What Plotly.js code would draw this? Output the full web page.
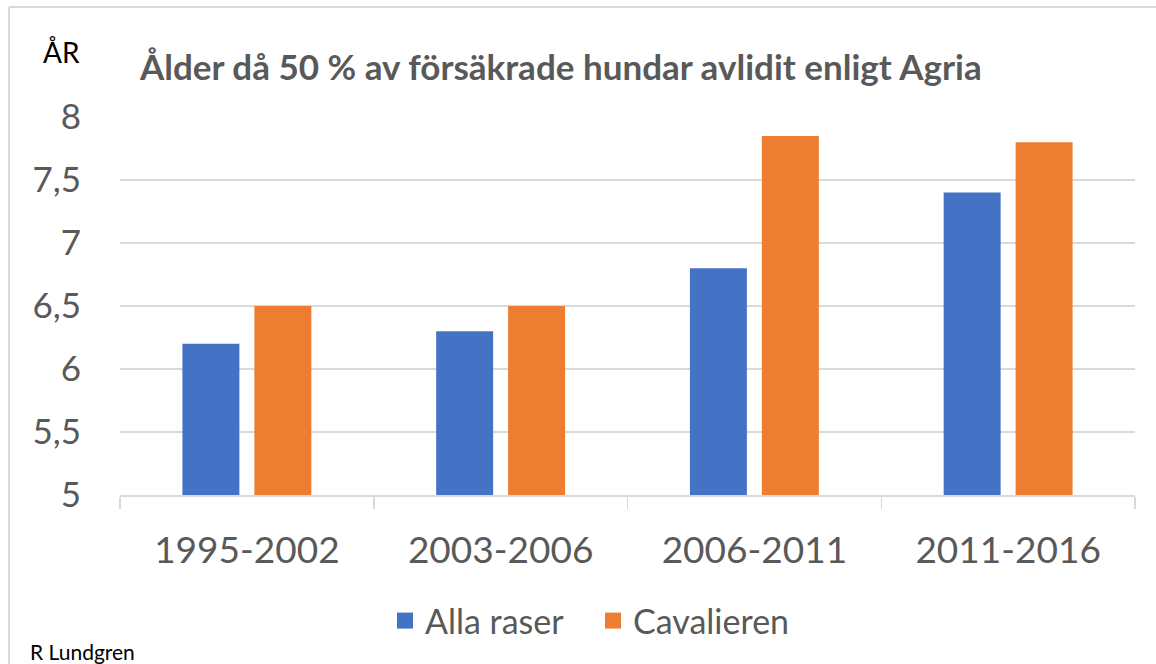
<!DOCTYPE html>
<html>
<head>
<meta charset="utf-8">
<script src="https://cdn.plot.ly/plotly-3.0.1.min.js"></script>
<style>
html,body{margin:0;padding:0;background:#fff;}
#chart{width:1156px;height:664px;}
</style>
</head>
<body>
<div id="chart"></div>
<script>
const categories = ["1995-2002", "2003-2006", "2006-2011", "2011-2016"];
const allaRaser = [6.2, 6.3, 6.8, 7.4];
const cavalieren = [6.5, 6.5, 7.85, 7.8];
const seriesNames = ["Alla raser", "Cavalieren"];
const titleText = "Ålder då 50 % av försäkrade hundar avlidit enligt Agria";
const yUnit = "ÅR";
const credit = "R Lundgren";

const font = "Lato, 'Open Sans', sans-serif";
const grey = "#595959";
const colors = ["#4472C4", "#ED7D31"];

const data = [
  {type: "bar", name: seriesNames[0], x: categories, y: allaRaser,
   marker: {color: colors[0]}, hoverinfo: "y", showlegend: false},
  {type: "bar", name: seriesNames[1], x: categories, y: cavalieren,
   marker: {color: colors[1]}, hoverinfo: "y", showlegend: false},
  // legend entries (larger square swatches, no visible points)
  {type: "scatter", mode: "markers", name: seriesNames[0],
   x: [categories[0]], y: [null],
   marker: {color: colors[0], symbol: "square", size: 21}, hoverinfo: "skip"},
  {type: "scatter", mode: "markers", name: seriesNames[1],
   x: [categories[0]], y: [null],
   marker: {color: colors[1], symbol: "square", size: 21}, hoverinfo: "skip"}
];

const layout = {
  width: 1156, height: 664,
  margin: {l: 120, r: 21, t: 117, b: 169},
  paper_bgcolor: "#fff", plot_bgcolor: "#fff",
  separators: ", ",
  barmode: "group",
  bargap: 0.433,
  bargroupgap: 0.208,
  font: {family: font, color: grey},
  title: {
    text: titleText,
    font: {family: font, size: 35, color: grey, weight: "bold"},
    xref: "container", yref: "container",
    x: 140/1156, xanchor: "left",
    y: 1 - 68/664, yanchor: "middle"
  },
  xaxis: {
    type: "category",
    showgrid: false,
    showline: true, linecolor: "#d9d9d9", linewidth: 1.5,
    ticks: "outside", tickson: "boundaries", ticklen: 12,
    tickcolor: "#d9d9d9", tickwidth: 1.5,
    tickfont: {family: font, size: 37, color: grey},
    ticklabelstandoff: 22,
    fixedrange: true
  },
  yaxis: {
    range: [5, 8],
    dtick: 0.5, tick0: 5,
    showgrid: true, gridcolor: "#d9d9d9", gridwidth: 1.5,
    zeroline: false, showline: false,
    ticks: "",
    tickfont: {family: font, size: 35, color: grey},
    ticklabelstandoff: 38,
    fixedrange: true
  },
  showlegend: true,
  legend: {
    orientation: "h",
    x: (385 - 120) / 1015, xanchor: "left",
    y: (495 - 621) / 378, yanchor: "middle",
    font: {family: font, size: 34, color: grey},
    itemwidth: 30,
    entrywidth: 163, entrywidthmode: "pixels",
    traceorder: "normal"
  },
  annotations: [
    {text: yUnit, xref: "paper", yref: "paper",
     x: (61 - 120) / 1015, y: (495 - 52) / 378,
     xanchor: "center", yanchor: "middle", showarrow: false,
     font: {family: font, size: 28, color: "#000"}},
    {text: credit, xref: "paper", yref: "paper",
     x: (28 - 120) / 1015, y: (495 - 651) / 378,
     xanchor: "left", yanchor: "middle", showarrow: false,
     font: {family: font, size: 21, color: "#000"}}
  ],
  shapes: [
    {type: "line", xref: "paper", yref: "paper",
     x0: (9 - 120) / 1015, x1: (9 - 120) / 1015,
     y0: (495 - 7) / 378, y1: -1,
     line: {color: "#d9d9d9", width: 2}},
    {type: "line", xref: "paper", yref: "paper",
     x0: (9 - 120) / 1015, x1: 1.2,
     y0: (495 - 7) / 378, y1: (495 - 7) / 378,
     line: {color: "#d9d9d9", width: 2}}
  ]
};

Plotly.newPlot("chart", data, layout, {displayModeBar: false, staticPlot: true});
</script>
</body>
</html>
